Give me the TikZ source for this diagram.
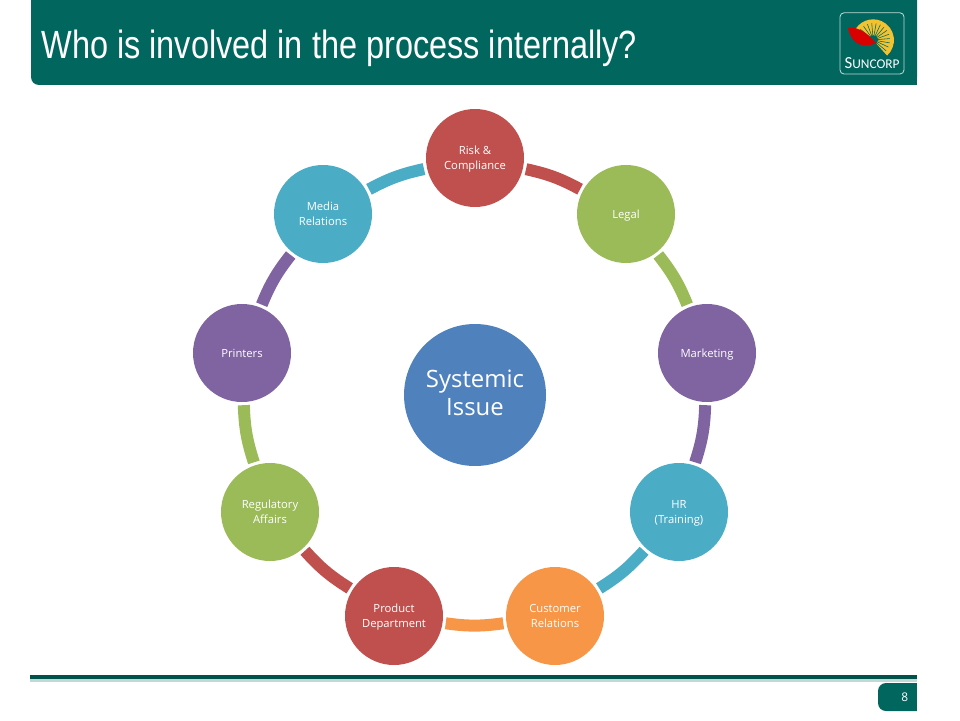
\documentclass[tikz,border=0pt]{standalone}
\usepackage{fontspec}
\setmainfont{Open Sans}
\newfontfamily\titlefont[FakeStretch=0.825]{Liberation Sans}
\newfontfamily\logofont{Carlito}
\usepackage{pgf, tikz}
\pgfdeclarelayer{edgelayer}
\pgfdeclarelayer{nodelayer}
\pgfsetlayers{edgelayer,nodelayer,main}
\definecolor{teal1}{HTML}{00665E}
\definecolor{red1}{HTML}{C0504D}
\definecolor{green1}{HTML}{9BBB59}
\definecolor{purple1}{HTML}{8064A2}
\definecolor{blue1}{HTML}{4BACC6}
\definecolor{orange1}{HTML}{F79646}
\definecolor{blue2}{HTML}{4F81BD}
\definecolor{yellow1}{HTML}{F2C230}
\tikzstyle{link}=[line width=0.3cm, bend left=8]
\tikzstyle{member}=[circle, minimum size=2.45cm, inner sep=0pt, outer sep=0.08cm, align=center, text=white, text depth=0pt, font=\fontsize{8}{10.6}\selectfont]
\tikzstyle{hub}=[circle, minimum size=3.55cm, inner sep=0pt, align=center, text=white, text depth=0.1cm, fill=blue2, font=\fontsize{17}{20.2}\selectfont]

\begin{document}
\begin{tikzpicture}
			\useasboundingbox (0, 0) rectangle (24, 18);
			\fill [teal1, rounded corners=0.2cm] (0.775, 15.875) rectangle (22.925, 18.5);
			\fill [teal1] (22.5, 15.875) rectangle (22.925, 18);
			\node [text=white, anchor=west, font=\titlefont\fontsize{28}{28}\selectfont] (title) at (0.91, 16.8) {Who is involved in the process internally?};
			\draw [white!75!teal1, line width=0.6pt, rounded corners=0.1cm] (21, 16.15) rectangle (22.6, 17.68);
			\fill [yellow1] (21.83, 17) -- (21.35, 17.2) arc (157:-48:0.52) -- cycle;
			\foreach \a in {-40,-25,...,150}
				\draw [teal1, line width=0.4pt] (21.83, 17) -- ++(\a:0.42);
			\fill [teal1] (21.83, 17) circle (0.12);
			\fill [red!85!black] (21.2, 17.3) .. controls (21.5, 17.35) and (21.75, 17.1) .. (21.9, 16.92) .. controls (21.6, 16.8) and (21.3, 16.85) .. (21.2, 17.3);
			\node [text=white, font=\logofont\fontsize{9.5}{10}\selectfont] (logo) at (21.8, 16.42) {{\fontsize{12}{10}\selectfont S}UNCORP};
			\fill [teal1!80!black] (0.75, 1.03) rectangle (22.925, 1.13);
			\fill [teal1!25!white] (0.75, 0.96) rectangle (22.925, 1.03);
			\fill [teal1, rounded corners=0.2cm] (21.95, 0.225) rectangle (23.3, 0.925);
			\fill [white] (22.925, 0) rectangle (24, 1);
			\node [text=white, font=\fontsize{8.5}{10}\selectfont] (page) at (22.62, 0.58) {8};
			\begin{pgfonlayer}{nodelayer}
			\node [style=hub] (issue) at (11.875, 8.125) {Systemic\\Issue};
			\node [style=member, fill=red1] (risk) at (11.875, 14.05) {Risk \&\\Compliance};
			\node [style=member, fill=green1] (legal) at (15.65, 12.65) {Legal};
			\node [style=member, fill=purple1] (marketing) at (17.675, 9.175) {Marketing};
			\node [style=member, fill=blue1] (hr) at (16.975, 5.2) {HR\\(Training)};
			\node [style=member, fill=orange1] (customer) at (13.875, 2.6) {Customer\\Relations};
			\node [style=member, fill=red1] (product) at (9.85, 2.6) {Product\\Department};
			\node [style=member, fill=green1] (regulatory) at (6.75, 5.2) {Regulatory\\Affairs};
			\node [style=member, fill=purple1] (printers) at (6.05, 9.175) {Printers};
			\node [style=member, fill=blue1] (media) at (8.075, 12.65) {Media\\Relations};
			\end{pgfonlayer}
			\begin{pgfonlayer}{edgelayer}
			\draw [style=link, red1] (risk) to (legal);
			\draw [style=link, green1] (legal) to (marketing);
			\draw [style=link, purple1] (marketing) to (hr);
			\draw [style=link, blue1] (hr) to (customer);
			\draw [style=link, orange1] (customer) to (product);
			\draw [style=link, red1] (product) to (regulatory);
			\draw [style=link, green1] (regulatory) to (printers);
			\draw [style=link, purple1] (printers) to (media);
			\draw [style=link, blue1] (media) to (risk);
			\end{pgfonlayer}
			\end{tikzpicture}
\end{document}
